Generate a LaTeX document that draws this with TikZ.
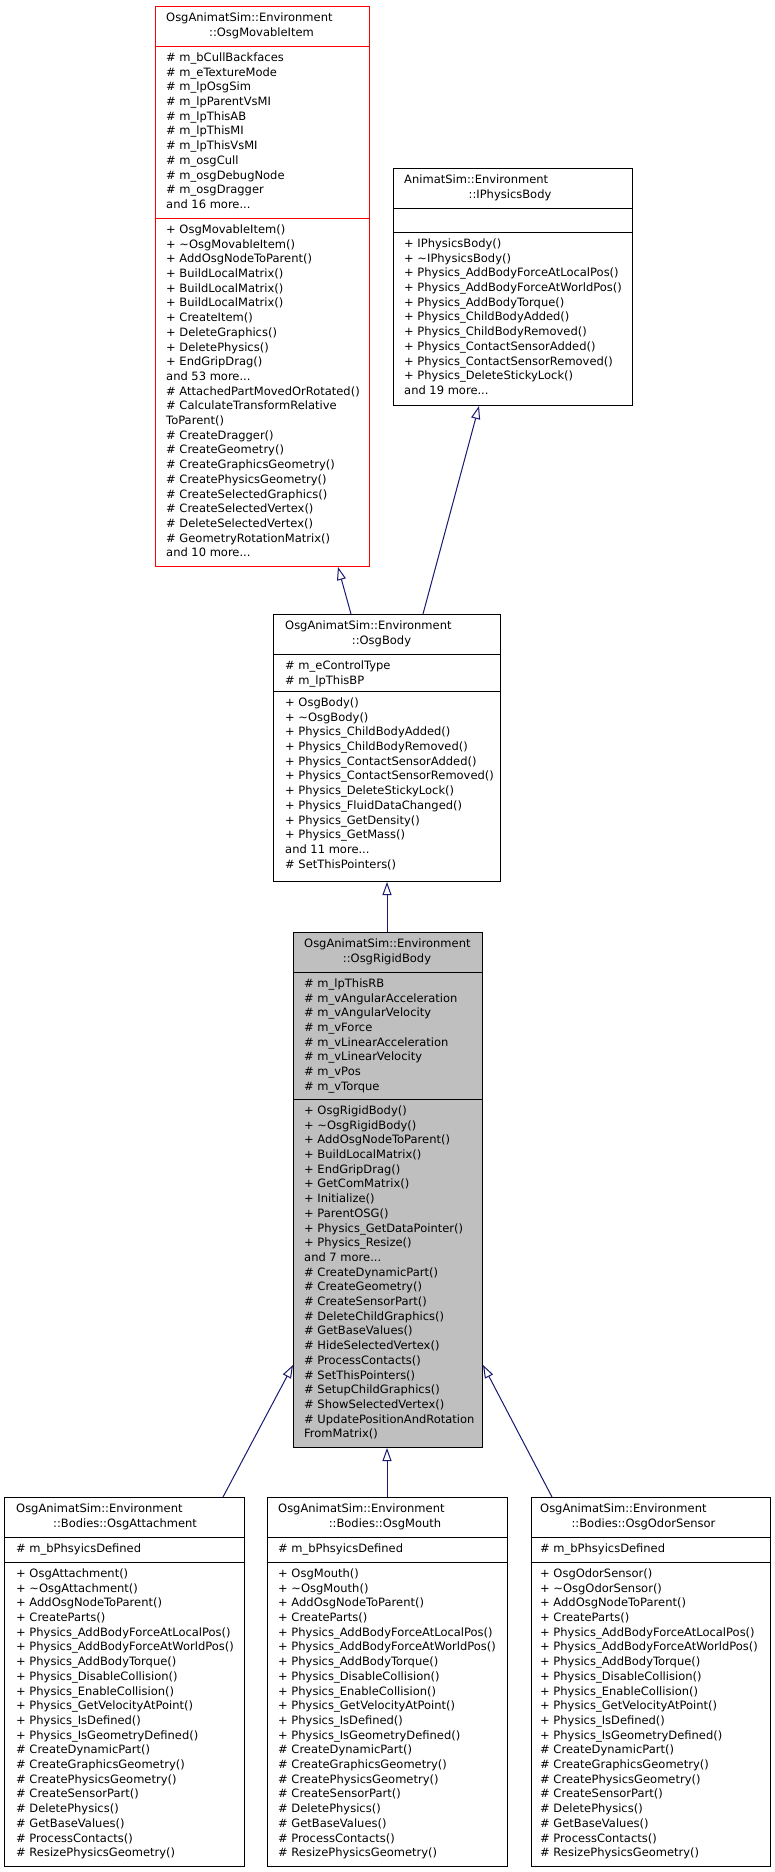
\documentclass[tikz,border=0pt]{standalone}
\usepackage{fontspec}
\setmainfont{DejaVu Sans}
\usetikzlibrary{arrows.meta}
\definecolor{edgeblue}{RGB}{25,25,112}
\definecolor{boxgray}{RGB}{191,191,191}
\definecolor{boxred}{RGB}{255,0,0}
\newcommand\tdots{...}
\newcommand\mlist[4]{%
  \foreach \txt [count=\i from 0] in {#4} {
    \node[txt] (#1-\i) at (#2, {#3+\i*14.7}) {\txt};
  }%
}
\begin{document}
\begin{tikzpicture}[x=1pt,y=-1pt,
  txt/.style={anchor=base west,inner sep=0pt,font=\fontsize{11.5}{14}\selectfont},
  ttl/.style={anchor=base,inner sep=0pt,font=\fontsize{11.5}{14}\selectfont},
  cls/.style={draw=black,line width=1pt,fill=white,rectangle,inner sep=0pt,anchor=north west},
  sep/.style={line width=1pt},
  inh/.style={draw=edgeblue,line width=1pt,-{Triangle[length=13pt,width=9pt,fill=white]}}]
\useasboundingbox (0,0) rectangle (775,1872);
\fill[white] (0,0) rectangle (775,1872);

% ---------- OsgMovableItem ----------
\node[cls,draw=boxred,minimum width=214pt,minimum height=560pt] (movable) at (155,6) {};
\draw[sep,boxred] (155,46) -- (369,46);
\draw[sep,boxred] (155,218) -- (369,218);
\node[txt] (movable-t1) at (166,21.4) {OsgAnimatSim::Environment};
\node[ttl] (movable-t2) at (261.5,36.1) {::OsgMovableItem};
\mlist{movable-a}{166}{61.4}{\# m\_bCullBackfaces,\# m\_eTextureMode,\# m\_lpOsgSim,\# m\_lpParentVsMI,\# m\_lpThisAB,\# m\_lpThisMI,\# m\_lpThisVsMI,\# m\_osgCull,\# m\_osgDebugNode,\# m\_osgDragger,and 16 more\tdots}
\mlist{movable-m}{166}{233.4}{+ OsgMovableItem(),+ \textasciitilde OsgMovableItem(),+ AddOsgNodeToParent(),+ BuildLocalMatrix(),+ BuildLocalMatrix(),+ BuildLocalMatrix(),+ CreateItem(),+ DeleteGraphics(),+ DeletePhysics(),+ EndGripDrag(),and 53 more\tdots,\# AttachedPartMovedOrRotated(),\# CalculateTransformRelative,ToParent(),\# CreateDragger(),\# CreateGeometry(),\# CreateGraphicsGeometry(),\# CreatePhysicsGeometry(),\# CreateSelectedGraphics(),\# CreateSelectedVertex(),\# DeleteSelectedVertex(),\# GeometryRotationMatrix(),and 10 more\tdots}

% ---------- IPhysicsBody ----------
\node[cls,minimum width=239pt,minimum height=237pt] (iphys) at (393,168) {};
\draw[sep] (393,208) -- (632,208);
\draw[sep] (393,232) -- (632,232);
\node[txt] (iphys-t1) at (404,183.4) {AnimatSim::Environment};
\node[ttl] (iphys-t2) at (510,198.1) {::IPhysicsBody};
\mlist{iphys-m}{404}{247.4}{+ IPhysicsBody(),+ \textasciitilde IPhysicsBody(),+ Physics\_AddBodyForceAtLocalPos(),+ Physics\_AddBodyForceAtWorldPos(),+ Physics\_AddBodyTorque(),+ Physics\_ChildBodyAdded(),+ Physics\_ChildBodyRemoved(),+ Physics\_ContactSensorAdded(),+ Physics\_ContactSensorRemoved(),+ Physics\_DeleteStickyLock(),and 19 more\tdots}

% ---------- OsgBody ----------
\node[cls,minimum width=227pt,minimum height=267pt] (body) at (273,614) {};
\draw[sep] (273,654) -- (500,654);
\draw[sep] (273,691) -- (500,691);
\node[txt] (body-t1) at (285,629.4) {OsgAnimatSim::Environment};
\node[ttl] (body-t2) at (381.5,644.1) {::OsgBody};
\mlist{body-a}{285}{669.4}{\# m\_eControlType,\# m\_lpThisBP}
\mlist{body-m}{285}{706.4}{+ OsgBody(),+ \textasciitilde OsgBody(),+ Physics\_ChildBodyAdded(),+ Physics\_ChildBodyRemoved(),+ Physics\_ContactSensorAdded(),+ Physics\_ContactSensorRemoved(),+ Physics\_DeleteStickyLock(),+ Physics\_FluidDataChanged(),+ Physics\_GetDensity(),+ Physics\_GetMass(),and 11 more\tdots,\# SetThisPointers()}

% ---------- OsgRigidBody ----------
\node[cls,fill=boxgray,minimum width=189pt,minimum height=515pt] (rigid) at (293,932) {};
\draw[sep] (293,972) -- (482,972);
\draw[sep] (293,1099) -- (482,1099);
\node[txt] (rigid-t1) at (304,947.4) {OsgAnimatSim::Environment};
\node[ttl] (rigid-t2) at (387,962.1) {::OsgRigidBody};
\mlist{rigid-a}{304}{987.4}{\# m\_lpThisRB,\# m\_vAngularAcceleration,\# m\_vAngularVelocity,\# m\_vForce,\# m\_vLinearAcceleration,\# m\_vLinearVelocity,\# m\_vPos,\# m\_vTorque}
\mlist{rigid-m}{304}{1114.4}{+ OsgRigidBody(),+ \textasciitilde OsgRigidBody(),+ AddOsgNodeToParent(),+ BuildLocalMatrix(),+ EndGripDrag(),+ GetComMatrix(),+ Initialize(),+ ParentOSG(),+ Physics\_GetDataPointer(),+ Physics\_Resize(),and 7 more\tdots,\# CreateDynamicPart(),\# CreateGeometry(),\# CreateSensorPart(),\# DeleteChildGraphics(),\# GetBaseValues(),\# HideSelectedVertex(),\# ProcessContacts(),\# SetThisPointers(),\# SetupChildGraphics(),\# ShowSelectedVertex(),\# UpdatePositionAndRotation,FromMatrix()}

% ---------- Bottom classes ----------
\node[cls,minimum width=240pt,minimum height=369pt] (attach) at (4,1497) {};
\draw[sep] (4,1537) -- (244,1537);
\draw[sep] (4,1562) -- (244,1562);
\node[txt] (attach-t1) at (16,1512.4) {OsgAnimatSim::Environment};
\node[ttl] (attach-t2) at (125,1527.1) {::Bodies::OsgAttachment};
\mlist{attach-a}{16}{1552.4}{\# m\_bPhsyicsDefined}
\mlist{attach-m}{16}{1577.4}{+ OsgAttachment(),+ \textasciitilde OsgAttachment(),+ AddOsgNodeToParent(),+ CreateParts(),+ Physics\_AddBodyForceAtLocalPos(),+ Physics\_AddBodyForceAtWorldPos(),+ Physics\_AddBodyTorque(),+ Physics\_DisableCollision(),+ Physics\_EnableCollision(),+ Physics\_GetVelocityAtPoint(),+ Physics\_IsDefined(),+ Physics\_IsGeometryDefined(),\# CreateDynamicPart(),\# CreateGraphicsGeometry(),\# CreatePhysicsGeometry(),\# CreateSensorPart(),\# DeletePhysics(),\# GetBaseValues(),\# ProcessContacts(),\# ResizePhysicsGeometry()}

\node[cls,minimum width=240pt,minimum height=369pt] (mouth) at (267,1497) {};
\draw[sep] (267,1537) -- (507,1537);
\draw[sep] (267,1562) -- (507,1562);
\node[txt] (mouth-t1) at (278,1512.4) {OsgAnimatSim::Environment};
\node[ttl] (mouth-t2) at (385,1527.1) {::Bodies::OsgMouth};
\mlist{mouth-a}{278}{1552.4}{\# m\_bPhsyicsDefined}
\mlist{mouth-m}{278}{1577.4}{+ OsgMouth(),+ \textasciitilde OsgMouth(),+ AddOsgNodeToParent(),+ CreateParts(),+ Physics\_AddBodyForceAtLocalPos(),+ Physics\_AddBodyForceAtWorldPos(),+ Physics\_AddBodyTorque(),+ Physics\_DisableCollision(),+ Physics\_EnableCollision(),+ Physics\_GetVelocityAtPoint(),+ Physics\_IsDefined(),+ Physics\_IsGeometryDefined(),\# CreateDynamicPart(),\# CreateGraphicsGeometry(),\# CreatePhysicsGeometry(),\# CreateSensorPart(),\# DeletePhysics(),\# GetBaseValues(),\# ProcessContacts(),\# ResizePhysicsGeometry()}

\node[cls,minimum width=239pt,minimum height=369pt] (odor) at (531,1497) {};
\draw[sep] (531,1537) -- (770,1537);
\draw[sep] (531,1562) -- (770,1562);
\node[txt] (odor-t1) at (540,1512.4) {OsgAnimatSim::Environment};
\node[ttl] (odor-t2) at (643.5,1527.1) {::Bodies::OsgOdorSensor};
\mlist{odor-a}{540}{1552.4}{\# m\_bPhsyicsDefined}
\mlist{odor-m}{540}{1577.4}{+ OsgOdorSensor(),+ \textasciitilde OsgOdorSensor(),+ AddOsgNodeToParent(),+ CreateParts(),+ Physics\_AddBodyForceAtLocalPos(),+ Physics\_AddBodyForceAtWorldPos(),+ Physics\_AddBodyTorque(),+ Physics\_DisableCollision(),+ Physics\_EnableCollision(),+ Physics\_GetVelocityAtPoint(),+ Physics\_IsDefined(),+ Physics\_IsGeometryDefined(),\# CreateDynamicPart(),\# CreateGraphicsGeometry(),\# CreatePhysicsGeometry(),\# CreateSensorPart(),\# DeletePhysics(),\# GetBaseValues(),\# ProcessContacts(),\# ResizePhysicsGeometry()}

% ---------- Inheritance connectors ----------
\draw[inh] ([xshift=78pt]body.north west) -- ([xshift=183pt]movable.south west);
\draw[inh] ([xshift=150pt]body.north west) -- ([xshift=86pt]iphys.south west);
\draw[inh] ([xshift=94pt]rigid.north west) -- ([xshift=114pt]body.south west);
\draw[inh] ([xshift=219pt]attach.north west) -- ([yshift=83pt]rigid.south west);
\draw[inh] ([xshift=120pt]mouth.north west) -- ([xshift=94pt]rigid.south west);
\draw[inh] ([xshift=21pt]odor.north west) -- ([yshift=83pt]rigid.south east);
\end{tikzpicture}
\end{document}
